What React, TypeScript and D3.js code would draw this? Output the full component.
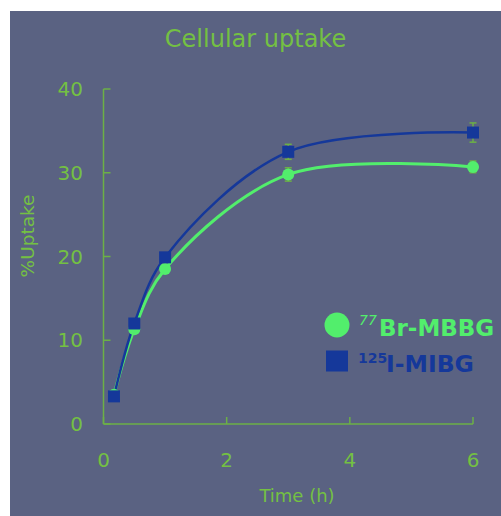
import React from "react";
import * as d3 from "d3";

const times = [0.17, 0.5, 1, 3, 6];
const brValues = [3.5, 11.3, 18.5, 29.8, 30.7];
const brErrors = [0, 0, 0, 0.8, 0.7];
const iValues = [3.3, 12.0, 19.9, 32.5, 34.8];
const iErrors = [0, 0, 0, 0.9, 1.15];
const xTicks = [0, 2, 4, 6];
const yTicks = [0, 10, 20, 30, 40];

const W = 501;
const H = 516;
const BG = "#5a6282";
const AXIS = "#6cb046";
const TEXTG = "#74c043";
const GREEN = "#52ee6c";
const BLUE = "#15389a";

export default function App() {
  const x = d3.scaleLinear().domain([0, 6]).range([103.5, 473]);
  const y = d3.scaleLinear().domain([0, 40]).range([424, 89]);
  const line = d3
    .line<number>()
    .x((_, i) => x(times[i]))
    .y((d) => y(d))
    .curve(d3.curveCatmullRom.alpha(0.5));

  const errBars = (vals: number[], errs: number[], key: string) =>
    vals.map((v, i) =>
      errs[i] > 0 ? (
        <g key={key + i} stroke={AXIS} strokeWidth={1.5}>
          <line x1={x(times[i])} x2={x(times[i])} y1={y(v - errs[i])} y2={y(v + errs[i])} />
          <line x1={x(times[i]) - 3.5} x2={x(times[i]) + 3.5} y1={y(v - errs[i])} y2={y(v - errs[i])} />
          <line x1={x(times[i]) - 3.5} x2={x(times[i]) + 3.5} y1={y(v + errs[i])} y2={y(v + errs[i])} />
        </g>
      ) : null
    );

  const font = "'DejaVu Sans', sans-serif";

  return (
    <svg
      width={W}
      height={H}
      style={{ position: "absolute", left: 0, top: 0, display: "block" }}
      fontFamily={font}
    >
      <rect x={0} y={0} width={W} height={H} fill="#ffffff" />
      <rect x={10} y={11} width={W - 10} height={H - 11} fill={BG} />
      <text x={255.5} y={47} textAnchor="middle" fontSize={24} fill={TEXTG}>
        Cellular uptake
      </text>

      {/* axes */}
      <line x1={x(0)} x2={x(0)} y1={y(40)} y2={y(0)} stroke={AXIS} strokeWidth={1.5} />
      <line x1={x(0)} x2={x(6)} y1={y(0)} y2={y(0)} stroke={AXIS} strokeWidth={1.5} />
      {yTicks.map((t) => (
        <g key={"y" + t}>
          <line x1={x(0)} x2={x(0) + 7} y1={y(t)} y2={y(t)} stroke={AXIS} strokeWidth={1.5} />
          <text x={83} y={y(t) + 7} textAnchor="end" fontSize={20} fill={TEXTG}>
            {t}
          </text>
        </g>
      ))}
      {xTicks.map((t) => (
        <g key={"x" + t}>
          <line x1={x(t)} x2={x(t)} y1={y(0)} y2={y(0) - 7} stroke={AXIS} strokeWidth={1.5} />
          <text x={x(t)} y={467} textAnchor="middle" fontSize={20} fill={TEXTG}>
            {t}
          </text>
        </g>
      ))}
      <text x={297} y={502} textAnchor="middle" fontSize={18} fill={TEXTG}>
        Time (h)
      </text>
      <text
        transform={`translate(34,236) rotate(-90)`}
        textAnchor="middle"
        fontSize={18.5}
        fill={TEXTG}
      >
        %Uptake
      </text>

      {/* lines */}
      <path d={line(brValues) || ""} fill="none" stroke={GREEN} strokeWidth={3} />
      <path d={line(iValues) || ""} fill="none" stroke={BLUE} strokeWidth={2.5} />

      {errBars(iValues, iErrors, "ie")}
      {errBars(brValues, brErrors, "be")}

      {brValues.map((v, i) => (
        <circle key={"c" + i} cx={x(times[i])} cy={y(v)} r={6} fill={GREEN} />
      ))}
      {iValues.map((v, i) => (
        <rect key={"s" + i} x={x(times[i]) - 6} y={y(v) - 6} width={12} height={12} fill={BLUE} />
      ))}

      {/* legend */}
      <circle cx={337} cy={325} r={12.5} fill={GREEN} />
      <text x={359} y={325} fontSize={14} fontStyle="italic" fill={GREEN}>
        77
      </text>
      <text x={379} y={336} fontSize={23} fontWeight="bold" fill={GREEN}>
        Br-MBBG
      </text>
      <rect x={326} y={350.5} width={22} height={21} fill={BLUE} />
      <text x={358} y={363} fontSize={14} fontWeight="bold" fill={BLUE}>
        125
      </text>
      <text x={386} y={371.5} fontSize={23.5} fontWeight="bold" fill={BLUE}>
        I-MIBG
      </text>
    </svg>
  );
}
